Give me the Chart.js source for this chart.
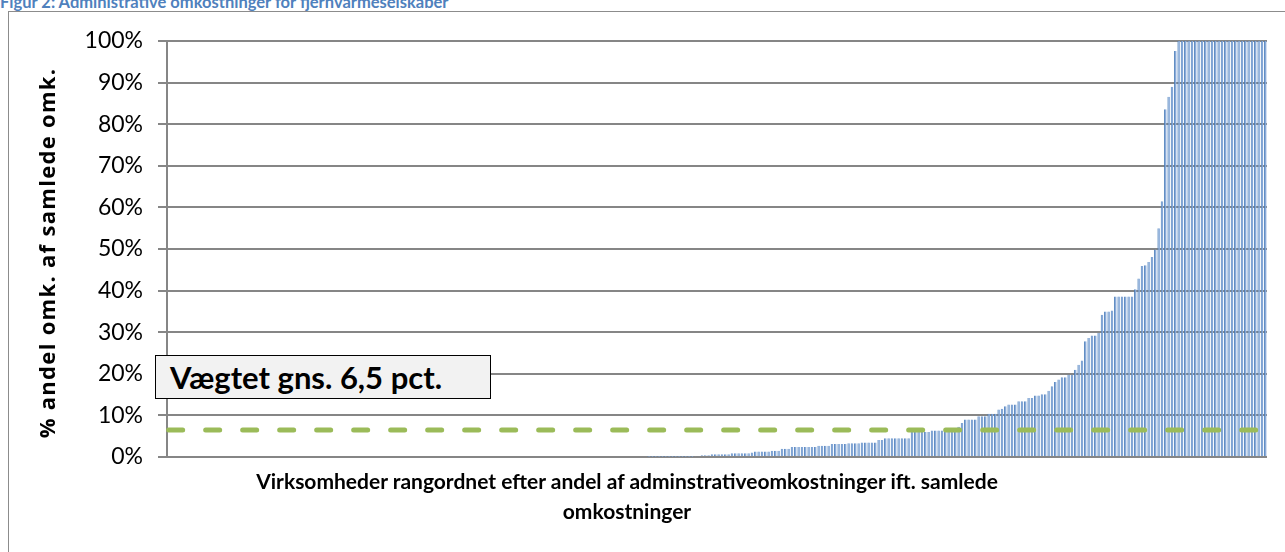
<!DOCTYPE html>
<html>
<head>
<meta charset="utf-8">
<script src="https://cdn.jsdelivr.net/npm/chart.js@4"></script>
<style>
  body { margin: 0; background: #fff; width: 1285px; height: 552px; overflow: hidden; position: relative; font-family: Lato, 'Open Sans', sans-serif; }
  #frame { position: absolute; left: 8px; top: 11px; width: 1400px; height: 700px; border: 1.5px solid #8c8c8c; box-sizing: border-box; }
  #fig-title { position: absolute; left: 0; top: -6px; line-height: 16px; color: #4f81bd; font-weight: bold; font-size: 16.5px; white-space: nowrap; }
  #chart { position: absolute; left: 0; top: 0; }
  #avg-box { position: absolute; left: 155px; top: 355px; width: 336px; height: 44px; box-sizing: border-box; border: 1.5px solid #000; background: #f2f2f2; font-weight: bold; font-size: 31px; padding-left: 14px; line-height: 42px; white-space: nowrap; }
  #x-title { position: absolute; left: 127px; top: 466px; width: 1000px; text-align: center; font-weight: bold; font-size: 21px; line-height: 30px; }
  #y-title { position: absolute; left: -164px; top: 238px; width: 420px; height: 30px; line-height: 30px; text-align: center; font-family: 'Open Sans', sans-serif; font-weight: bold; font-size: 22px; letter-spacing: 1.3px; transform: rotate(-90deg); white-space: nowrap; }
</style>
</head>
<body>
<div id="frame"></div>
<div id="fig-title">Figur 2: Administrative omkostninger for fjernvarmeselskaber</div>
<canvas id="chart" width="1285" height="552"></canvas>
<div id="y-title">% andel omk. af samlede omk.</div>
<div id="x-title">Virksomheder rangordnet efter andel af adminstrativeomkostninger ift. samlede<br>omkostninger</div>
<div id="avg-box">Vægtet gns. 6,5 pct.</div>

<script>
// andel administrative omk. i pct., virksomheder sorteret stigende
const shares = [
  0,0,0,0,0,0,0,0,0,0,0,0,0,0,0,0,0,0,0,0,0,0,0,0,
  0,0,0,0,0,0,0,0,0,0,0,0,0,0,0,0,0,0,0,0,0,0,0,0,
  0,0,0,0,0,0,0,0,0,0,0,0,0,0,0,0,0,0,0,0,0,0,0,0,
  0,0,0,0,0,0,0,0,0,0,0,0,0,0,0,0,0,0,0,0,0,0,0,0,
  0,0,0,0,0,0,0,0,0,0,0,0,0,0,0,0,0,0,0,0,0,0,0,0,
  0,0,0,0,0,0,0,0,0,0,0,0,0,0,0,0,0,0,0,0,0,0,0,0,
  0.08,0.08,0.08,0.08,0.08,0.08,0.08,0.08,0.08,0.08,0.08,0.08,0.08,0.08,
  0.16,0.16,
  0.4,0.4,0.4,
  0.65,0.65,0.65,0.65,0.65,0.65,
  0.9,0.9,0.9,0.9,0.9,0.9,
  1.1,
  1.3,1.3,1.3,1.3,1.3,
  1.5,1.5,1.5,
  2.0,2.0,2.0,
  2.4,2.4,2.4,2.4,2.4,2.4,2.4,2.4,
  2.7,2.7,2.7,2.7,
  3.1,3.1,3.1,3.1,3.1,
  3.3,3.3,3.3,3.3,
  3.5,3.5,3.5,3.5,3.5,
  4.1,4.1,
  4.5,4.5,4.5,4.5,4.5,4.5,4.5,4.5,
  6.0,6.0,6.0,6.0,6.0,6.0,
  6.4,6.4,6.4,6.4,6.4,6.4,6.4,6.4,
  7.3,8.2,
  9.0,9.0,9.0,9.0,
  9.8,9.8,9.8,
  10.4,10.4,10.4,
  11.4,11.6,12.2,
  12.6,12.6,12.6,
  13.4,13.4,13.4,
  14.2,14.2,
  14.8,14.8,
  15.1,15.1,
  15.9,17.0,18.0,18.6,
  19.2,19.2,
  19.8,19.8,
  21.0,22.2,23.2,27.8,28.6,29.2,29.2,29.8,34.2,35.0,35.0,35.2,
  38.6,38.6,38.6,38.6,38.6,38.6,
  40.3,42.9,45.9,46.1,46.9,48.1,49.9,55.0,61.5,83.6,86.6,89.0,97.6,
  100,100,100,100,100,100,100,100,100,100,100,100,100,100,
  100,100,100,100,100,100,100,100,100,100,100,100,100
];
const companies = shares.map((v, i) => i + 1);
const weightedAvg = 6.5;
const avgLine = companies.map(() => weightedAvg);
const yTicks = [0, 10, 20, 30, 40, 50, 60, 70, 80, 90, 100];

const gridGrey = '#868686';

new Chart(document.getElementById('chart'), {
  data: {
    labels: companies,
    datasets: [
      {
        type: 'line',
        data: avgLine,
        borderColor: '#9bbb59',
        borderWidth: 5,
        borderDash: [14, 23],
        borderCapStyle: 'round',
        pointRadius: 0,
        fill: false
      },
      {
        type: 'bar',
        data: shares,
        backgroundColor: '#86a8d8',
        borderColor: '#4a7ebb',
        borderWidth: { left: 1, right: 0, top: 0, bottom: 0 },
        borderSkipped: false,
        barPercentage: 0.76,
        categoryPercentage: 1.0
      }
    ]
  },
  options: {
    responsive: false,
    animation: false,
    events: [],
    layout: { padding: { top: 41, right: 18, bottom: 95, left: 0 } },
    plugins: { legend: { display: false }, tooltip: { enabled: false } },
    scales: {
      x: {
        ticks: { display: false },
        grid: { display: false, drawTicks: false },
        border: { display: false },
        afterFit: s => { s.height = 0; }
      },
      y: {
        min: 0,
        max: 100,
        afterBuildTicks: s => { s.ticks = yTicks.map(v => ({ value: v })); },
        ticks: {
          callback: v => v + '%',
          color: '#000',
          font: { family: 'Lato', size: 23 },
          padding: 15
        },
        grid: { color: gridGrey, lineWidth: 2, tickLength: 9 },
        border: { display: true, color: gridGrey, width: 2 },
        afterFit: s => { s.width = 167; }
      }
    }
  }
});
</script>
</body>
</html>
